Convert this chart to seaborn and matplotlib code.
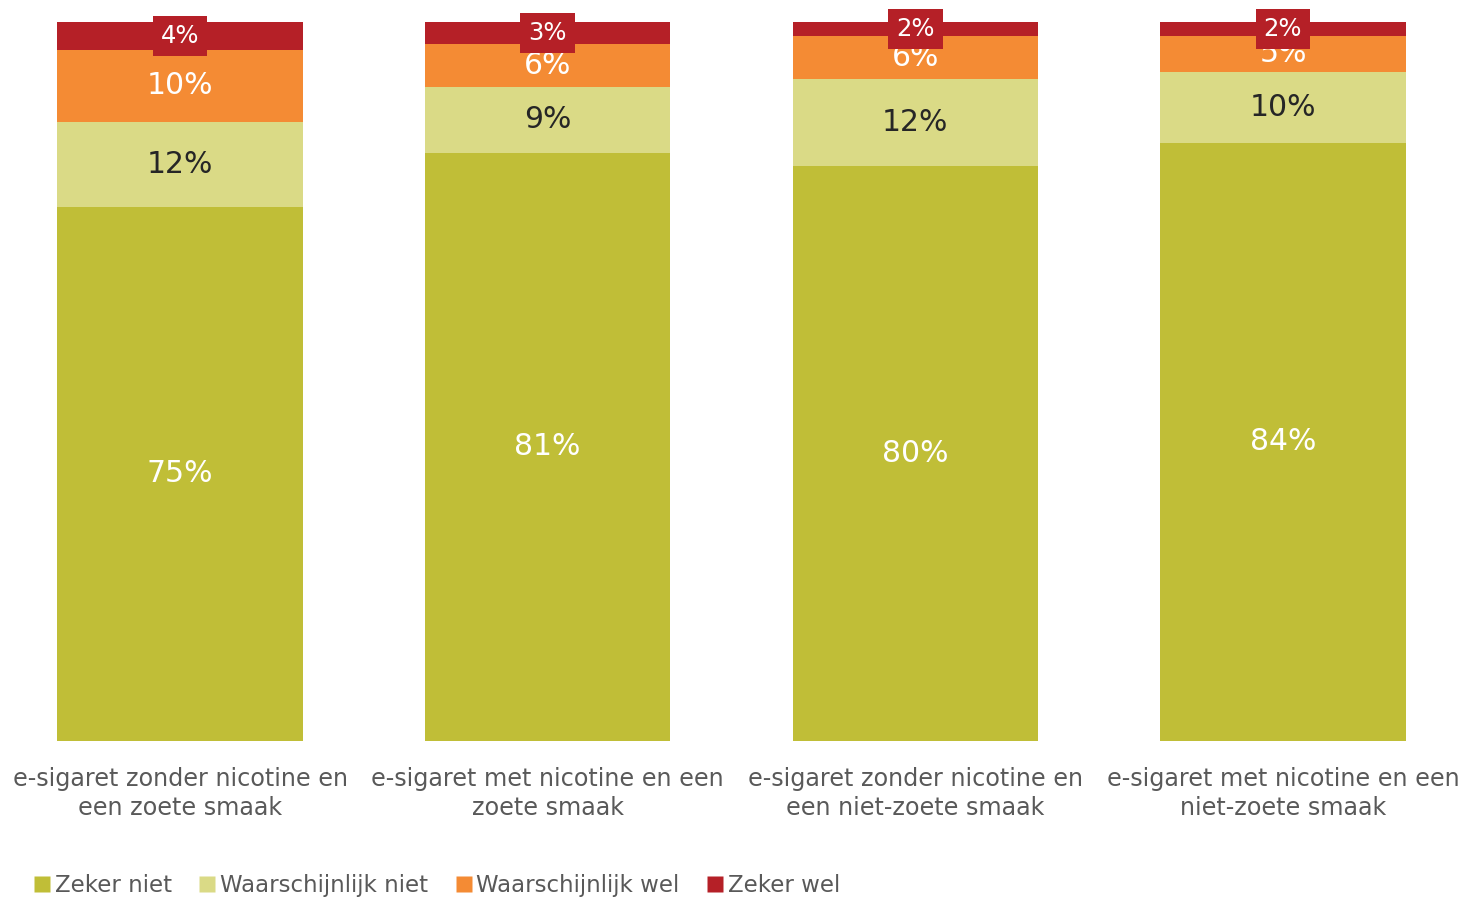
import matplotlib
matplotlib.use("Agg")
import matplotlib.pyplot as plt
import seaborn as sns
import numpy as np
import pandas as pd
from matplotlib.lines import Line2D

categories = ["e-sigaret zonder nicotine en\neen zoete smaak",
              "e-sigaret met nicotine en een\nzoete smaak",
              "e-sigaret zonder nicotine en\neen niet-zoete smaak",
              "e-sigaret met nicotine en een\nniet-zoete smaak"]
series = ["Zeker niet", "Waarschijnlijk niet", "Waarschijnlijk wel", "Zeker wel"]
zeker_niet = [75, 81, 80, 84]
waarsch_niet = [12, 9, 12, 10]
waarsch_wel = [10, 6, 6, 5]
zeker_wel = [4, 3, 2, 2]
colors = ["#C0BE37", "#DADA86", "#F48B34", "#B52027"]
text_colors = ["white", "#262626", "white", "white"]

sns.set_style("white")
plt.rcParams["font.family"] = ["DejaVu Sans"]

vals = np.array([zeker_niet, waarsch_niet, waarsch_wel, zeker_wel], dtype=float)
shares = vals / vals.sum(axis=0) * 100  # 100% stacked
cum = np.cumsum(shares, axis=0)

fig = plt.figure(figsize=(14.63, 8.97), dpi=100)
ax = fig.add_axes([-0.0026, 0.174, 1.0052, 0.8016])

# draw from the top layer down so each stack shows through
for k in range(3, -1, -1):
    df = pd.DataFrame({"cat": categories, "val": cum[k]})
    sns.barplot(data=df, x="cat", y="val", color=colors[k], width=0.667,
                saturation=1, ax=ax, linewidth=0)

for i in range(len(categories)):
    for k in range(4):
        mid = cum[k, i] - shares[k, i] / 2
        label = f"{int(vals[k, i])}%"
        if k == 3:
            ax.text(i, mid, label, ha="center", va="center", fontsize=17.5,
                    color="white",
                    bbox=dict(boxstyle="square,pad=0.33", fc=colors[3], ec="none"))
        else:
            ax.text(i, mid, label, ha="center", va="center", fontsize=21.5,
                    color=text_colors[k])

ax.set_xlim(-0.5, 3.5)
ax.set_ylim(0, 100)
ax.set_yticks([])
ax.set_xlabel("")
ax.set_ylabel("")
ax.tick_params(axis="x", length=0, pad=19, labelsize=17.2, labelcolor="#595959")
for t in ax.get_xticklabels():
    t.set_linespacing(1.25)
sns.despine(ax=ax, left=True, bottom=True)

handles = [Line2D([0], [0], marker="s", linestyle="", markersize=11,
                  markerfacecolor=c, markeredgecolor="none") for c in colors]
fig.legend(handles, series, loc="center left", bbox_to_anchor=(0.007, 0.013),
           ncol=4, frameon=False, fontsize=16.5, handletextpad=0.05,
           columnspacing=1.05, handlelength=1.0, labelcolor="#595959")

fig.savefig("out.png", dpi=100)
